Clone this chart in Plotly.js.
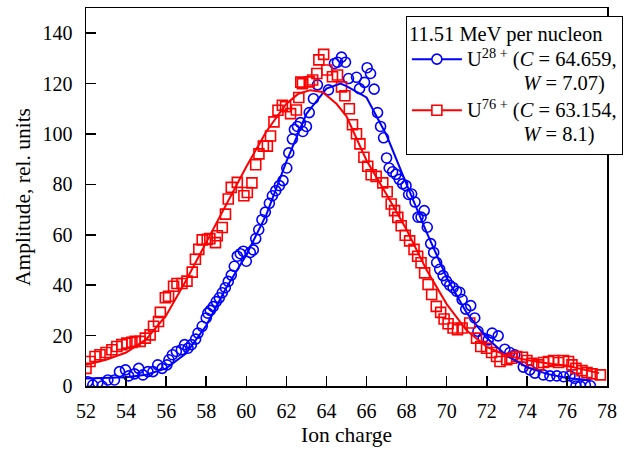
<!DOCTYPE html>
<html>
<head>
<meta charset="utf-8">
<script src="https://cdn.plot.ly/plotly-3.0.1.min.js"></script>
<style>html,body{margin:0;padding:0;background:#fff;}#chart{width:638px;height:450px;}</style>
</head>
<body>
<div id="chart"></div>
<script>
// U28+ measured points (ion charge, amplitude)
const blueX = [52.09,52.34,52.59,52.8,53.09,53.42,53.67,53.97,54.13,54.42,54.63,54.84,55.09,55.34,55.58,55.8,56.04,56.14,56.31,56.51,56.76,56.92,57.09,57.26,57.47,57.59,57.8,58.0,58.08,58.2,58.35,58.5,58.65,58.8,58.95,59.1,59.25,59.4,59.55,59.7,59.85,60.0,60.2,60.35,60.47,60.62,60.78,60.95,61.15,61.3,61.47,61.65,61.83,62.02,62.12,62.3,62.4,62.55,62.7,62.82,63.0,63.14,63.35,63.55,64.1,64.4,64.55,64.75,64.95,65.1,65.5,65.65,65.9,66.03,66.2,66.38,66.55,66.7,66.85,67.0,67.13,67.3,67.47,67.63,67.8,67.97,68.1,68.25,68.42,68.57,68.72,68.88,69.03,69.2,69.35,69.5,69.65,69.82,69.99,70.15,70.32,70.49,70.65,70.77,70.95,71.2,71.4,71.56,71.82,72.07,72.27,72.57,72.9,73.15,73.4,73.82,74.15,74.4,74.82,75.15,75.5,75.83,76.15,76.38,76.45,76.67,76.92,77.17];
const blueY = [1.7,0.4,1.3,0,2.4,2.4,5.7,6.4,4,4.8,7,4.4,5.7,5.7,8.4,7,8.4,10.4,12.4,13.7,14.4,16.4,15,16.4,18.6,21,23.7,27,28.9,30,31.5,33.5,35,37,39,41.5,44,47.5,51.5,52.5,53.5,49.5,53,54,58.5,62,66,69,72.5,75.5,77.5,79.5,81.5,86.5,92.5,98,101.8,103,104.5,101,103,108.5,114,119.5,117.5,128,128.5,130.5,128.5,122,122.5,118,120.5,126.3,124,117.8,108.5,103,98.5,90.5,86.5,85,84,82,80.2,79.5,76,76.2,73,67,67,69.6,63,56.5,53,49,46.3,43.8,41.6,40,39,37.6,37.2,34.3,30.5,31.9,27,21.7,19,18.3,21,19.9,14.6,13.3,12.4,7.5,6.4,5.1,4.4,4,4,3.7,4,3.1,0,0,0.4,0.1];

// U76+ measured points
const redX = [52.0,52.2,52.45,52.7,53.0,53.29,53.54,53.79,54.04,54.29,54.45,54.7,54.96,55.2,55.37,55.62,55.71,55.96,56.12,56.37,56.54,56.79,57.04,57.3,57.46,57.63,57.8,58.05,58.18,58.46,58.55,58.8,58.96,59.1,59.25,59.55,59.88,60.05,60.28,60.47,60.63,60.85,61.05,61.21,61.38,61.58,61.8,61.96,62.21,62.5,62.62,62.72,62.8,63.14,63.31,63.52,63.62,63.86,64.02,64.3,64.55,64.75,64.92,65.14,65.3,65.5,65.67,65.87,66.06,66.23,66.48,66.81,67.03,67.23,67.4,67.56,67.73,67.93,68.15,68.37,68.55,68.72,68.9,69.07,69.25,69.48,69.7,69.87,70.07,70.32,70.54,70.77,71.15,71.49,71.7,71.99,72.24,72.49,72.66,73.0,73.24,73.49,73.78,74.0,74.25,74.58,74.83,75.08,75.33,75.58,75.83,76.08,76.25,76.45,76.75,77.0,77.25,77.67];
const redY = [7,9.7,11.7,12.4,13.3,14.4,15.7,16.4,17,17.3,17.7,17.7,19,20.3,23.7,25.6,29.2,35,35.6,39.6,40.7,40.7,41.6,45.2,50.3,54.2,58,58.2,58.5,56.9,59.6,62.9,68.2,74.2,78.8,80.8,75.5,76.8,80.6,87.8,92.1,95.2,95.2,99.2,104.8,109.4,111.4,110.8,108.1,109.5,114.5,120.6,120,120.7,121.4,124,129.4,131.6,125.4,122.7,123.4,118.7,115.2,110,103.7,100.1,96.1,90.8,87.2,83.8,83.2,80.6,77.1,72.2,69.6,66.9,63.6,59.8,57.6,54.2,51.5,48.9,44.9,40.3,36.3,31.6,29.2,26.6,24.7,23,22.3,23,25,19,15.7,15,13.3,11.7,9.7,10.4,11,11.7,11.4,10.1,9,8.4,9.3,9.7,10.1,9.3,10.1,9.7,8.4,7,6.1,5.3,4.8,4.4];

// Fitted curves
const blueFitX = [52,53,54,55,56,57,58,59,60,61,62,63,64,64.7,65,66,67,68,69,70,71,72,73,74,75,76,77.2];
const blueFitY = [3,3.2,3.5,4.5,7,13,24,39,52,68,89,108,118,120,119,114.5,99.5,80,61,43,29,19,12,7.5,4.8,3.2,2.2];
const redFitX = [52,53,54,55,56,57,58,59,60,61,62,62.6,63.2,63.8,64.5,65,66,67,68,69,70,71,72,73,74,75,76,77,77.6];
const redFitY = [8.4,10.4,13.3,18.5,28,42,57,72,87,101,112,116,117.4,116.7,112,107,89.5,76,62,46,32.5,22,15.5,12,10.3,9,8,6.2,5.1];

const xTicks = [52,54,56,58,60,62,64,66,68,70,72,74,76,78];
const yTicks = [0,20,40,60,80,100,120,140];

const PAD = '&nbsp;'.repeat(11);
const big = s => '<span style="font-size:20.5px">' + s + '</span>';
const legendBlue = big('U<sup>28 +</sup> (<i>C</i> = 64.659,') + '<br>' + big(PAD + '<i>W</i> = 7.07)');
const legendRed = big('U<sup>76 +</sup> (<i>C</i> = 63.154,') + '<br>' + big(PAD + '<i>W</i> = 8.1)');
const legendTitle = big('11.51 MeV per nucleon');

const BLUE = '#0000ff', RED = '#ff0000';
const FONT = 'Liberation Serif, Times New Roman, serif';

const traces = [
  {x: blueX, y: blueY, mode: 'markers', type: 'scatter', showlegend: false,
   marker: {symbol: 'circle-open', size: 10, color: BLUE, line: {width: 1.6, color: BLUE}}},
  {x: redX, y: redY, mode: 'markers', type: 'scatter', showlegend: false,
   marker: {symbol: 'square-open', size: 10, color: RED, line: {width: 1.6, color: RED}}},
  {x: blueFitX, y: blueFitY, mode: 'lines', type: 'scatter', showlegend: false,
   line: {color: BLUE, width: 2}},
  {x: redFitX, y: redFitY, mode: 'lines', type: 'scatter', showlegend: false,
   line: {color: RED, width: 2}},
  {x: [null], y: [null], mode: 'lines+markers', type: 'scatter', name: legendBlue,
   line: {color: BLUE, width: 2},
   marker: {symbol: 'circle', size: 10, color: '#ffffff', line: {width: 1.6, color: BLUE}}},
  {x: [null], y: [null], mode: 'lines+markers', type: 'scatter', name: legendRed,
   line: {color: RED, width: 2},
   marker: {symbol: 'square', size: 10, color: '#ffffff', line: {width: 1.6, color: RED}}}
];

const layout = {
  width: 638, height: 450,
  paper_bgcolor: '#ffffff', plot_bgcolor: '#ffffff',
  margin: {l: 86, r: 31, t: 8, b: 64, pad: 0},
  font: {family: FONT, size: 20, color: '#000'},
  xaxis: {
    range: [52, 78], tickvals: xTicks, ticktext: xTicks.map(String),
    ticks: 'inside', ticklen: 10, tickwidth: 1.5, tickcolor: '#000',
    showline: true, linecolor: '#000', linewidth: 1.5, mirror: true,
    showgrid: false, zeroline: false, ticklabelstandoff: 6,
    tickfont: {family: FONT, size: 20},
    title: {text: 'Ion charge', font: {family: FONT, size: 21.5}, standoff: 6}
  },
  yaxis: {
    range: [0, 150], tickvals: yTicks, ticktext: yTicks.map(String),
    ticks: 'inside', ticklen: 10, tickwidth: 1.5, tickcolor: '#000',
    showline: true, linecolor: '#000', linewidth: 1.5, mirror: true,
    showgrid: false, zeroline: false, ticklabelstandoff: 8,
    tickfont: {family: FONT, size: 20},
    title: {text: 'Amplitude, rel. units', font: {family: FONT, size: 21.5}, standoff: 6}
  },
  legend: {
    x: 0.614, y: 0.98, xanchor: 'left', yanchor: 'top',
    bgcolor: '#ffffff', bordercolor: '#000', borderwidth: 1,
    font: {family: FONT, size: 18.5}, valign: 'top', itemwidth: 50,
    tracegroupgap: 0,
    title: {text: legendTitle, font: {family: FONT, size: 18.5}}
  },
  showlegend: true
};

Plotly.newPlot('chart', traces, layout, {displayModeBar: false, staticPlot: true});
</script>
</body>
</html>
